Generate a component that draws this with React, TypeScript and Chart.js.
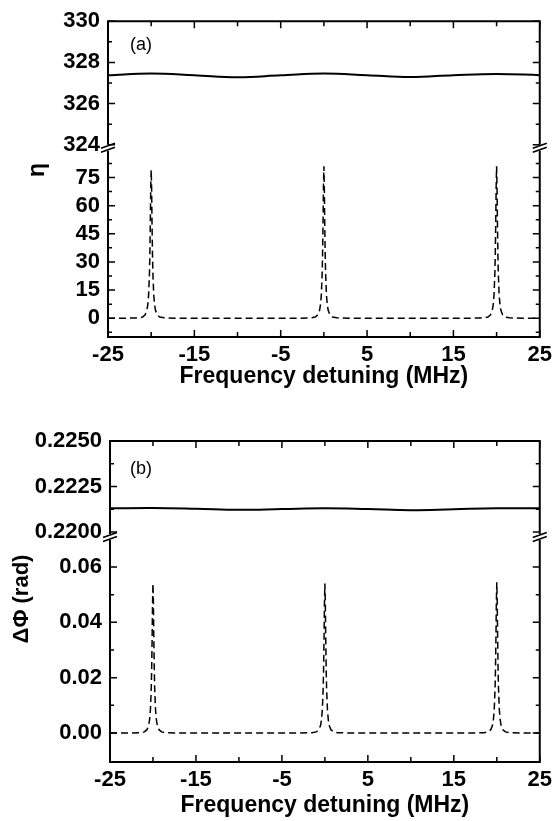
import React, { useEffect, useRef } from 'react';
import { Chart, registerables } from 'chart.js';

Chart.register(...registerables);

// ---------- data ----------
const detuning = [
  -25,
  -23, -21.5, -21, -20.7, -20.5, -20.4, -20.3, -20.2, -20.15, -20.1, -20.05, -20, -19.95, -19.9, -19.85, -19.8, -19.7, -19.6, -19.5, -19.3, -19, -18.5, -17,
  -10,
  -3, -1.5, -1, -0.7, -0.5, -0.4, -0.3, -0.2, -0.15, -0.1, -0.05, 0, 0.05, 0.1, 0.15, 0.2, 0.3, 0.4, 0.5, 0.7, 1, 1.5, 3,
  10,
  17, 18.5, 19, 19.3, 19.5, 19.6, 19.7, 19.8, 19.85, 19.9, 19.95, 20, 20.05, 20.1, 20.15, 20.2, 20.3, 20.4, 20.5, 20.7, 21, 21.5, 23,
  25,
];

const etaPeaks = [
  0,
  0, 0.2, 0.6, 1.8, 4.2, 7, 12.2, 23.8, 34.3, 50.3, 69.7, 79, 69.7, 50.3, 34.3, 23.8, 12.2, 7, 4.2, 1.8, 0.6, 0.2, 0,
  0,
  0, 0.2, 0.6, 1.8, 4.2, 7, 12.2, 23.8, 34.3, 50.3, 69.7, 81, 69.7, 50.3, 34.3, 23.8, 12.2, 7, 4.2, 1.8, 0.6, 0.2, 0,
  0,
  0, 0.2, 0.6, 1.8, 4.2, 7, 12.2, 23.8, 34.3, 50.3, 69.7, 81, 69.7, 50.3, 34.3, 23.8, 12.2, 7, 4.2, 1.8, 0.6, 0.2, 0,
  0,
];

const dphiPeaks = [
  0,
  0, 0.0001, 0.0004, 0.0012, 0.0028, 0.0047, 0.0082, 0.0161, 0.0232, 0.034, 0.047, 0.054, 0.047, 0.034, 0.0232, 0.0161, 0.0082, 0.0047, 0.0028, 0.0012, 0.0004, 0.0001, 0,
  0,
  0, 0.0001, 0.0004, 0.0012, 0.0028, 0.0047, 0.0082, 0.0161, 0.0232, 0.034, 0.047, 0.054, 0.047, 0.034, 0.0232, 0.0161, 0.0082, 0.0047, 0.0028, 0.0012, 0.0004, 0.0001, 0,
  0,
  0, 0.0001, 0.0004, 0.0012, 0.0028, 0.0047, 0.0082, 0.0161, 0.0232, 0.034, 0.0475, 0.0545, 0.0475, 0.034, 0.0232, 0.0161, 0.0082, 0.0047, 0.0028, 0.0012, 0.0004, 0.0001, 0,
  0,
];

const detuningSmooth = [-25, -20, -15, -10, -5, 0, 5, 10, 15, 20, 25];
const etaFlat = [327.38, 327.46, 327.38, 327.28, 327.37, 327.46, 327.38, 327.29, 327.38, 327.44, 327.38];
const dphiFlat = [0.22130, 0.22132, 0.22128, 0.22122, 0.22126, 0.22130, 0.22126, 0.22120, 0.22125, 0.22130, 0.22130];

const xMajor = [-25, -15, -5, 5, 15, 25];
const xLabels = ['-25', '-15', '-5', '5', '15', '25'];
const xMinor = [-20, -10, 0, 10, 20];

const etaHiMajor = [324, 326, 328, 330];
const etaHiLabels = ['324', '326', '328', '330'];
const etaHiMinor = [325, 327, 329];
const etaLoMajor = [0, 15, 30, 45, 60, 75];
const etaLoLabels = ['0', '15', '30', '45', '60', '75'];
const etaLoMinor = [-7.5, 7.5, 22.5, 37.5, 52.5, 67.5, 82.5];

const dphiHiMajor = [0.22, 0.2225, 0.225];
const dphiHiLabels = ['0.2200', '0.2225', '0.2250'];
const dphiHiMinor = [0.22125, 0.22375];
const dphiLoMajor = [0, 0.02, 0.04, 0.06];
const dphiLoLabels = ['0.00', '0.02', '0.04', '0.06'];
const dphiLoMinor = [0.01, 0.03, 0.05];

// ---------- styling / layout ----------
const FAMILY = "'Liberation Sans', Arial, Helvetica, sans-serif";

const panels = [
  {
    tag: '(a)', yTitle: 'η',
    flatY: etaFlat, peakY: etaPeaks,
    hiMin: 323.905, hiMax: 330, loMin: -10, loMax: 91.4,
    hiMajor: etaHiMajor, hiLabels: etaHiLabels, hiMinor: etaHiMinor,
    loMajor: etaLoMajor, loLabels: etaLoLabels, loMinor: etaLoMinor,
    hiWeight: 128, loWeight: 194,
    top: 0, height: 400, padTop: 15, padRight: 16, yWidth: 108, xHeight: 63,
    labelPad: 5, titlePad: 10,
    yTitleX: 38, yTitleY: 170, yTitleSize: 23, tagX: 130, tagY: 45,
  },
  {
    tag: '(b)', yTitle: 'ΔΦ (rad)',
    flatY: dphiFlat, peakY: dphiPeaks,
    hiMin: 0.21978, hiMax: 0.225, loMin: -0.01048, loMax: 0.0712,
    hiMajor: dphiHiMajor, hiLabels: dphiHiLabels, hiMinor: dphiHiMinor,
    loMajor: dphiLoMajor, loLabels: dphiLoLabels, loMinor: dphiLoMinor,
    hiWeight: 95, loWeight: 226,
    top: 410, height: 411, padTop: 31, padRight: 16, yWidth: 110, xHeight: 59,
    labelPad: 5, titlePad: 2,
    yTitleX: 22, yTitleY: 189, yTitleSize: 22, tagX: 130, tagY: 59,
  },
];

const framePlugin = {
  id: 'frameBreak',
  afterDraw(chart: any, _args: any, opts: any) {
    const p = opts.panel;
    const ctx = chart.ctx;
    const { left: L, right: R, top: T, bottom: B } = chart.chartArea;
    const yHi = chart.scales.yHi;
    const yLo = chart.scales.yLo;
    const xs = chart.scales.x;
    const by = yHi.bottom + 1;
    ctx.save();
    ctx.strokeStyle = '#000';
    ctx.lineWidth = 2;
    ctx.beginPath();
    ctx.moveTo(L, by - 3); ctx.lineTo(L, T); ctx.lineTo(R, T); ctx.lineTo(R, by - 3);
    ctx.moveTo(L, by + 3); ctx.lineTo(L, B); ctx.lineTo(R, B); ctx.lineTo(R, by + 3);
    ctx.stroke();

    ctx.lineWidth = 1.5;
    ctx.beginPath();
    const yTicks = (scale: any, majors: number[]) => {
      scale.ticks.forEach((t: any) => {
        const py = scale.getPixelForValue(t.value);
        const len = majors.includes(t.value) ? 7 : 4;
        ctx.moveTo(L, py); ctx.lineTo(L + len, py);
        ctx.moveTo(R, py); ctx.lineTo(R - len, py);
      });
    };
    yTicks(yHi, p.hiMajor);
    yTicks(yLo, p.loMajor);
    xs.ticks.forEach((t: any) => {
      const px = xs.getPixelForValue(t.value);
      const len = xMajor.includes(t.value) ? 7 : 5;
      ctx.moveTo(px, B); ctx.lineTo(px, B - len);
      ctx.moveTo(px, T); ctx.lineTo(px, T + len);
    });
    ctx.stroke();

    // break marks
    ctx.lineWidth = 1.7;
    ctx.beginPath();
    [L, R].forEach((ax) => {
      ctx.moveTo(ax - 7, by + 0.5); ctx.lineTo(ax + 7, by - 4.5);
      ctx.moveTo(ax - 7, by + 4.5); ctx.lineTo(ax + 7, by - 0.5);
    });
    ctx.stroke();

    // y title
    ctx.fillStyle = '#000';
    ctx.font = `bold ${p.yTitleSize}px ${FAMILY}`;
    ctx.textAlign = 'center';
    ctx.textBaseline = 'middle';
    ctx.save();
    ctx.translate(p.yTitleX, p.yTitleY);
    ctx.rotate(-Math.PI / 2);
    ctx.fillText(p.yTitle, 0, 0);
    ctx.restore();

    // panel tag
    ctx.font = `18px ${FAMILY}`;
    ctx.textAlign = 'left';
    ctx.fillText(p.tag, p.tagX, p.tagY);
    ctx.restore();
  },
};

function buildConfig(p: any): any {
  const tickFont = { family: FAMILY, size: 22, weight: 'bold' as const };
  const yAxis = (min: number, max: number, majors: number[], labels: string[], minors: number[], weight: number, order: number) => ({
    type: 'linear',
    position: 'left',
    stack: 'yStack',
    stackWeight: weight,
    weight: order,
    min,
    max,
    afterBuildTicks: (s: any) => {
      s.ticks = [...majors, ...minors].sort((a, b) => a - b).map((v) => ({ value: v }));
    },
    afterFit: (s: any) => { s.width = p.yWidth; },
    grid: { display: false, drawTicks: false },
    border: { display: false },
    ticks: {
      autoSkip: false,
      padding: 8,
      color: '#000',
      font: tickFont,
      callback: (v: number) => {
        const i = majors.indexOf(v);
        return i >= 0 ? labels[i] : '';
      },
    },
  });

  return {
    type: 'line',
    data: {
      datasets: [
        {
          data: detuningSmooth.map((x, i) => ({ x, y: p.flatY[i] })),
          yAxisID: 'yHi',
          borderColor: '#000',
          borderWidth: 2,
          pointRadius: 0,
          tension: 0.4,
          fill: false,
        },
        {
          data: detuning.map((x, i) => ({ x, y: p.peakY[i] })),
          yAxisID: 'yLo',
          borderColor: '#000',
          borderWidth: 1.5,
          borderDash: [7, 4],
          pointRadius: 0,
          tension: 0,
          fill: false,
        },
      ],
    },
    options: {
      responsive: false,
      animation: false,
      layout: { padding: { top: p.padTop, right: p.padRight, left: 0, bottom: 0 } },
      plugins: {
        legend: { display: false },
        tooltip: { enabled: false },
        frameBreak: { panel: p },
      },
      scales: {
        x: {
          type: 'linear',
          position: 'bottom',
          min: -25,
          max: 25,
          afterBuildTicks: (s: any) => {
            s.ticks = [...xMajor, ...xMinor].sort((a, b) => a - b).map((v) => ({ value: v }));
          },
          afterFit: (s: any) => { s.height = p.xHeight; },
          grid: { display: false, drawTicks: false },
          border: { display: false },
          ticks: {
            autoSkip: false,
            maxRotation: 0,
            padding: p.labelPad,
            color: '#000',
            font: tickFont,
            callback: (v: number) => {
              const i = xMajor.indexOf(v);
              return i >= 0 ? xLabels[i] : '';
            },
          },
          title: {
            display: true,
            text: 'Frequency detuning (MHz)',
            color: '#000',
            font: { family: FAMILY, size: 23, weight: 'bold' },
            padding: { top: 0, bottom: p.titlePad },
          },
        },
        yLo: yAxis(p.loMin, p.loMax, p.loMajor, p.loLabels, p.loMinor, p.loWeight, 0),
        yHi: yAxis(p.hiMin, p.hiMax, p.hiMajor, p.hiLabels, p.hiMinor, p.hiWeight, 1),
      },
    },
    plugins: [framePlugin],
  };
}

function Panel({ p }: { p: any }) {
  const ref = useRef<HTMLCanvasElement>(null);
  useEffect(() => {
    const chart = new Chart(ref.current as HTMLCanvasElement, buildConfig(p));
    return () => chart.destroy();
  }, [p]);
  return (
    <canvas
      ref={ref}
      width={557}
      height={p.height}
      style={{ position: 'absolute', left: 0, top: p.top, display: 'block' }}
    />
  );
}

export default function App() {
  return (
    <div style={{ position: 'absolute', left: 0, top: 0, width: 557, height: 821, background: '#fff' }}>
      {panels.map((p) => (
        <Panel key={p.tag} p={p} />
      ))}
    </div>
  );
}
